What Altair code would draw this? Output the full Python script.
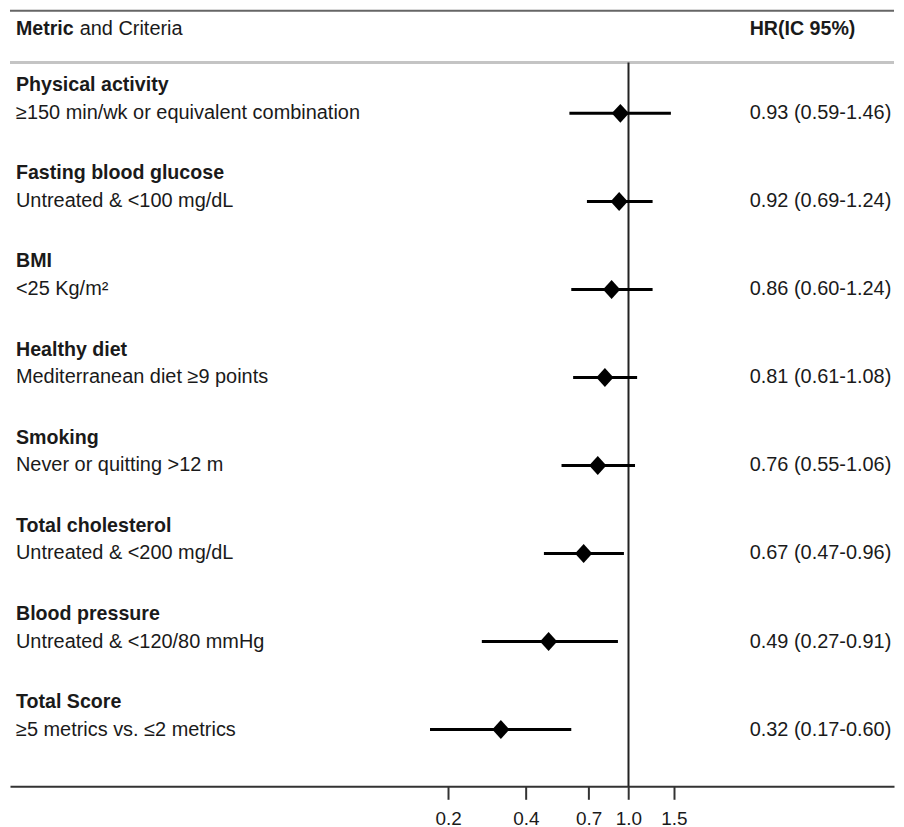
import altair as alt
import pandas as pd

# ---- data ----
metrics = ["Physical activity", "Fasting blood glucose", "BMI", "Healthy diet",
           "Smoking", "Total cholesterol", "Blood pressure", "Total Score"]
criteria = ["≥150 min/wk or equivalent combination", "Untreated & <100 mg/dL",
            "<25 Kg/m²", "Mediterranean diet ≥9 points", "Never or quitting >12 m",
            "Untreated & <200 mg/dL", "Untreated & <120/80 mmHg",
            "≥5 metrics vs. ≤2 metrics"]
hr = [0.93, 0.92, 0.86, 0.81, 0.76, 0.67, 0.49, 0.32]
lo = [0.59, 0.69, 0.60, 0.61, 0.55, 0.47, 0.27, 0.17]
hi = [1.46, 1.24, 1.24, 1.08, 1.06, 0.96, 0.91, 0.60]
x_ticks = [0.2, 0.4, 0.7, 1.0, 1.5]
header_bold = "Metric"
header_rest = "and Criteria"
header_right = "HR(IC 95%)"

# ---- layout / style ----
W, H = 888, 780
FONT = "Liberation Sans"
FS = 20
FSB = 19.7
TXT = "#1a1a1a"
TITLE_OFF = 0.317
Y_TOP, Y_BOT = -1.176, 7.645
HEADER_Y, HEADER_LINE_Y = -0.961, -0.577

rows = list(range(len(metrics)))
df = pd.DataFrame({
    "metric": metrics,
    "criteria": criteria,
    "hr": hr, "lo": lo, "hi": hi,
    "row": rows,
})
df["trow"] = df["row"] - TITLE_OFF
df["label"] = [f"{h:.2f} ({l:.2f}-{u:.2f})" for h, l, u in zip(hr, lo, hi)]

xscale = alt.Scale(type="log", domain=[0.004, 10.7], nice=False, zero=False)
yscale = alt.Scale(domain=[Y_TOP, Y_BOT], reverse=True, nice=False, zero=False)

base = alt.Chart(df)

ci = base.mark_rule(color="black", strokeWidth=3).encode(
    x=alt.X("lo:Q", scale=xscale,
            axis=alt.Axis(values=x_ticks, format=".1f", title=None, grid=False,
                          domainColor="#333333", domainWidth=2,
                          tickColor="#333333", tickWidth=2, tickSize=13,
                          labelFont=FONT, labelFontSize=19, labelColor=TXT,
                          labelPadding=10, labelFlush=False, labelOverlap=False)),
    x2="hi:Q",
    y=alt.Y("row:Q", scale=yscale, axis=None),
)

diamonds = base.mark_point(
    shape="M-1,0L0,-1.1L1,0L0,1.1Z", size=300, filled=True,
    color="black", opacity=1, strokeWidth=0,
).encode(
    x=alt.X("hr:Q", scale=xscale),
    y=alt.Y("row:Q", scale=yscale, axis=None),
)

ref_line = alt.Chart(df.head(1)).mark_rule(color="#222222", strokeWidth=2).encode(
    x=alt.X(datum=1.0, type="quantitative", scale=xscale),
    y=alt.Y(datum=HEADER_LINE_Y, type="quantitative", scale=yscale, axis=None),
    y2=alt.Y2(datum=Y_BOT),
)

header_line = alt.Chart(df.head(1)).mark_rule(color="#c4c4c4", strokeWidth=3).encode(
    x=alt.value(0), x2=alt.value(W),
    y=alt.Y(datum=HEADER_LINE_Y, type="quantitative", scale=yscale, axis=None),
)

top_line = alt.Chart(df.head(1)).mark_rule(color="#666666", strokeWidth=2).encode(
    x=alt.value(0), x2=alt.value(W), y=alt.value(1),
)

titles = base.mark_text(align="left", baseline="middle", font=FONT, fontSize=FSB,
                        fontWeight="bold", color=TXT).encode(
    x=alt.value(6),
    y=alt.Y("trow:Q", scale=yscale, axis=None),
    text="metric:N",
)

subs = base.mark_text(align="left", baseline="middle", font=FONT, fontSize=FS,
                      color=TXT).encode(
    x=alt.value(6),
    y=alt.Y("row:Q", scale=yscale, axis=None),
    text="criteria:N",
)

hr_text = base.mark_text(align="left", baseline="middle", font=FONT, fontSize=FS,
                         color=TXT).encode(
    x=alt.value(743),
    y=alt.Y("row:Q", scale=yscale, axis=None),
    text="label:N",
)

hdr = alt.Chart(df.head(1))
h1 = hdr.mark_text(align="left", baseline="middle", font=FONT, fontSize=FSB,
                   fontWeight="bold", color=TXT, text=header_bold).encode(
    x=alt.value(6),
    y=alt.Y(datum=HEADER_Y, type="quantitative", scale=yscale, axis=None),
)
h2 = hdr.mark_text(align="left", baseline="middle", font=FONT, fontSize=FS,
                   color=TXT, text=header_rest).encode(
    x=alt.value(70),
    y=alt.Y(datum=HEADER_Y, type="quantitative", scale=yscale, axis=None),
)
h3 = hdr.mark_text(align="left", baseline="middle", font=FONT, fontSize=FSB,
                   fontWeight="bold", color=TXT, text=header_right).encode(
    x=alt.value(743),
    y=alt.Y(datum=HEADER_Y, type="quantitative", scale=yscale, axis=None),
)

chart = alt.layer(
    top_line, header_line, ref_line, ci, diamonds, titles, subs, hr_text, h1, h2, h3
).properties(
    width=W, height=H, padding=0, background="white"
).configure_view(stroke=None)

chart.save("out.html", embed_options={"renderer": "svg", "actions": False})
